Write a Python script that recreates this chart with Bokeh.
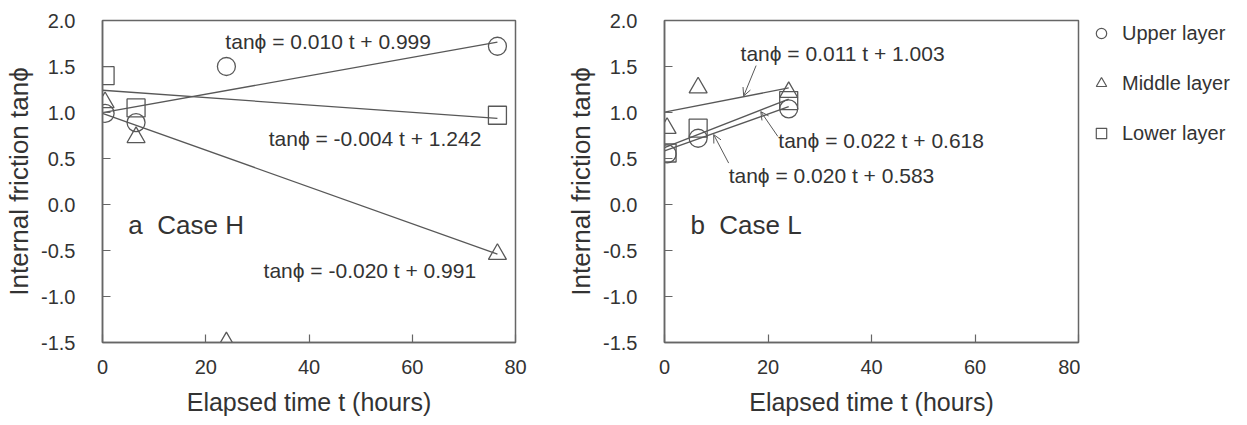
import numpy as np
from bokeh.plotting import figure
from bokeh.layouts import row
from bokeh.models import (Range1d, FixedTicker, PrintfTickFormatter, Label, Arrow,
                          OpenHead, Legend, LegendItem)
from bokeh.embed import file_html
from bokeh.resources import INLINE

FONT = "Liberation Sans"
INK = "#585858"
TXT = "#333333"

# ---------------- data ----------------
layers = ["Upper layer", "Middle layer", "Lower layer"]
markers = ["circle", "triangle", "square"]

x_ticks = [0, 20, 40, 60, 80]
y_ticks = [-1.5, -1.0, -0.5, 0.0, 0.5, 1.0, 1.5, 2.0]

# Case H
time_H = [0.5, 6.5, 24.0, 76.5]
upper_H = [0.99, 0.89, 1.50, 1.72]
middle_H = [1.11, 0.73, -1.50, -0.54]
lower_H = [1.40, 1.05, np.nan, 0.97]
slope_H = [0.010, -0.020, -0.004]
intercept_H = [0.999, 0.991, 1.242]
eq_H = ["tanϕ = 0.010 t + 0.999", "tanϕ = -0.020 t + 0.991", "tanϕ = -0.004 t + 1.242"]

# Case L
time_L = [0.5, 6.5, 24.0]
upper_L = [0.55, 0.72, 1.04]
middle_L = [0.83, 1.27, 1.22]
lower_L = [0.56, 0.83, 1.13]
slope_L = [0.020, 0.011, 0.022]
intercept_L = [0.583, 1.003, 0.618]
eq_L = ["tanϕ = 0.020 t + 0.583", "tanϕ = 0.011 t + 1.003", "tanϕ = 0.022 t + 0.618"]

H = 420


def make_panel(case_text, times, series, slopes, intercepts, eqs, eq_pos,
               width, right_border):
    p = figure(width=width, height=H, x_range=Range1d(0, 80), y_range=Range1d(-1.5, 2.0),
               output_backend="svg", toolbar_location=None,
               min_border_left=102, min_border_right=right_border,
               min_border_top=20, min_border_bottom=H - 342)
    p.grid.visible = False
    p.outline_line_color = "#666666"
    p.outline_line_width = 1.5
    p.background_fill_color = "white"

    for ax in (p.xaxis[0], p.yaxis[0]):
        ax.axis_line_color = "#666666"
        ax.axis_line_width = 1.5
        ax.major_tick_line_color = "#666666"
        ax.major_tick_line_width = 1.2
        ax.major_tick_in = 8
        ax.major_tick_out = 0
        ax.minor_tick_line_color = None
        ax.major_label_text_font = FONT
        ax.major_label_text_font_size = "20px"
        ax.major_label_text_color = TXT
        ax.axis_label_text_font = FONT
        ax.axis_label_text_font_style = "normal"
        ax.axis_label_text_color = TXT
    p.xaxis[0].ticker = FixedTicker(ticks=x_ticks)
    p.xaxis[0].major_label_standoff = 17
    p.xaxis[0].axis_label = "Elapsed time t (hours)"
    p.xaxis[0].axis_label_text_font_size = "25px"
    p.xaxis[0].axis_label_standoff = 11
    p.yaxis[0].ticker = FixedTicker(ticks=y_ticks)
    p.yaxis[0].formatter = PrintfTickFormatter(format="%.1f")
    p.yaxis[0].major_label_standoff = 27
    p.yaxis[0].axis_label = "Internal friction tanϕ"
    p.yaxis[0].axis_label_text_font_size = "26px"
    p.yaxis[0].axis_label_standoff = 4

    # fitted lines
    t_line = [0.0, times[-1]]
    for s, b in zip(slopes, intercepts):
        p.line(t_line, [s * t + b for t in t_line], line_color=INK, line_width=1.3)

    for vals, mk in zip(series, markers):
        p.scatter(times, vals, marker=mk, size=18, fill_color=None,
                  line_color=INK, line_width=1.3)

    for txt, (x, y) in zip(eqs, eq_pos):
        p.add_layout(Label(x=x, y=y, text=txt, text_font=FONT, text_font_size="21px",
                           text_color=TXT, text_baseline="middle", text_align="left"))

    p.add_layout(Label(x=5.0, y=-0.22, text=case_text, text_font=FONT,
                       text_font_size="26px", text_color=TXT,
                       text_baseline="middle", text_align="left"))
    return p


p1 = make_panel("a\u00a0\u00a0Case H", time_H, [upper_H, middle_H, lower_H], slope_H,
                intercept_H, eq_H, [(23.8, 1.77), (31.2, -0.72), (32.2, 0.72)],
                width=562, right_border=47)

p2 = make_panel("b\u00a0\u00a0Case L", time_L, [upper_L, middle_L, lower_L], slope_L,
                intercept_L, eq_L, [(12.4, 0.32), (14.7, 1.64), (22.0, 0.70)],
                width=518, right_border=2)

for (xs, ys, xe, ye) in ((17.7, 1.51, 15.3, 1.18), (21.9, 0.74, 18.6, 1.01),
                         (12.4, 0.45, 9.5, 0.76)):
    p2.add_layout(Arrow(x_start=xs, y_start=ys, x_end=xe, y_end=ye,
                        line_color=INK, line_width=1,
                        end=OpenHead(size=8, line_color=INK, line_width=1)))

# legend panel (legend keys only, no data drawn)
p3 = figure(width=165, height=H, x_range=Range1d(0, 1), y_range=Range1d(0, 1),
            output_backend="svg", toolbar_location=None,
            x_axis_type=None, y_axis_type=None,
            min_border_left=0, min_border_right=0, min_border_top=20, min_border_bottom=0)
p3.grid.visible = False
p3.outline_line_color = None
items = []
for lab, mk in zip(layers, markers):
    r = p3.scatter(x=[np.nan], y=[np.nan], marker=mk, size=18, fill_color=None,
                   line_color=INK, line_width=1.2)
    items.append(LegendItem(label=lab, renderers=[r]))
legend = Legend(items=items, location="top_left", margin=0, padding=0, spacing=24,
                glyph_width=42, glyph_height=26, label_height=26, label_standoff=0,
                label_text_font=FONT, label_text_font_size="20px", label_text_color=TXT,
                border_line_color=None, background_fill_alpha=0)
p3.add_layout(legend, "center")

layout = row(p1, p2, p3)
open("out.html", "w").write(file_html(layout, INLINE))
